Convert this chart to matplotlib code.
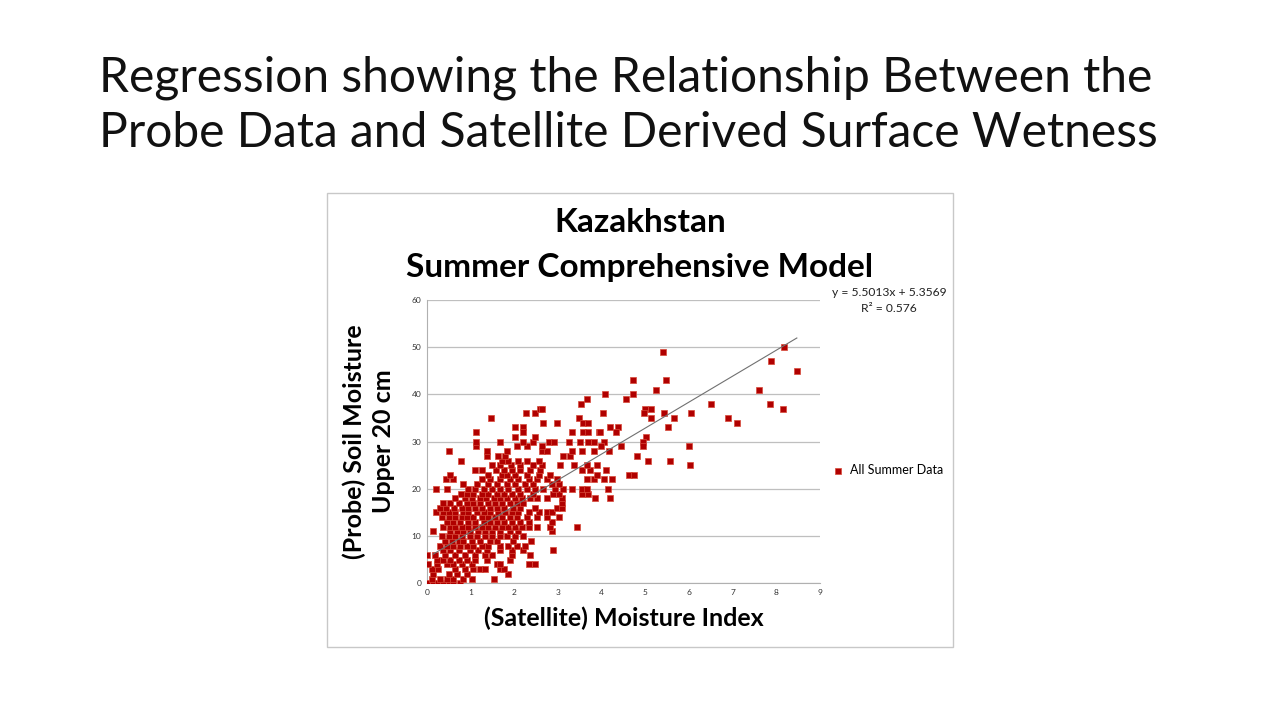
import numpy as np
import matplotlib.pyplot as plt
from matplotlib.patches import Rectangle

plt.rcParams['font.family'] = ['Lato', 'DejaVu Sans']

# satellite moisture index (x) and probe soil moisture (y)
# probe values 0-9
sat_low = [0.00, 0.15, 0.27, 0.38, 0.50, 0.61, 0.76,
           0.11, 0.31, 0.46, 0.61, 0.84, 1.03, 1.53,
           0.15, 0.50, 0.69, 0.92, 1.87,
           0.11, 0.27, 0.65, 0.88, 1.07, 1.22, 1.34, 1.68, 1.76,
           0.04, 0.23, 0.46, 0.61, 0.80, 1.03, 1.60, 1.68, 2.33, 2.48,
           0.23, 0.38, 0.53, 0.73, 0.92, 1.11, 1.37, 1.91,
           0.00, 0.19, 0.42, 0.65, 0.88, 1.11, 1.34, 1.49, 1.96, 2.37,
           0.38, 0.53, 0.73, 0.99, 1.18, 1.37, 1.68, 1.96, 2.21, 2.90,
           0.31, 0.46, 0.61, 0.76, 0.92, 1.07, 1.26, 1.41, 1.68, 1.87, 2.06, 2.25,
           0.42, 0.57, 0.73, 0.84, 1.03, 1.22, 1.45, 1.60, 1.98, 2.39]
probe_low = [0, 0, 0, 0, 0, 0, 0,
             1, 1, 1, 1, 1, 1, 1,
             2, 2, 2, 2, 2,
             3, 3, 3, 3, 3, 3, 3, 3, 3,
             4, 4, 4, 4, 4, 4, 4, 4, 4, 4,
             5, 5, 5, 5, 5, 5, 5, 5,
             6, 6, 6, 6, 6, 6, 6, 6, 6, 6,
             7, 7, 7, 7, 7, 7, 7, 7, 7, 7,
             8, 8, 8, 8, 8, 8, 8, 8, 8, 8, 8, 8,
             9, 9, 9, 9, 9, 9, 9, 9, 9, 9]

# probe values 10-19
sat_mid = [0.34, 0.50, 0.65, 0.80, 0.99, 1.15, 1.34, 1.49, 1.68, 1.83, 2.02, 2.21,
           0.15, 0.53, 0.69, 0.84, 0.99, 1.18, 1.34, 1.49, 1.68, 1.91, 2.10, 2.86,
           0.38, 0.53, 0.65, 0.80, 0.95, 1.11, 1.26, 1.41, 1.56, 1.72, 1.87, 2.02, 2.18, 2.33, 2.52, 2.82, 3.45,
           0.46, 0.61, 0.76, 0.95, 1.11, 1.30, 1.45, 1.60, 1.76, 1.95, 2.14, 2.33, 2.86,
           0.34, 0.50, 0.65, 0.80, 0.92, 1.07, 1.26, 1.41, 1.56, 1.72, 1.91, 2.06, 2.29, 2.52, 2.75, 3.02,
           0.21, 0.37, 0.50, 0.65, 0.84, 0.95, 1.15, 1.30, 1.45, 1.64, 1.79, 1.95, 2.10, 2.33, 2.56, 2.75, 2.86,
           0.31, 0.44, 0.63, 0.80, 0.95, 1.11, 1.26, 1.45, 1.60, 1.76, 1.98, 2.14, 2.48, 2.98, 3.09,
           0.37, 0.53, 0.73, 0.92, 1.07, 1.22, 1.41, 1.56, 1.72, 1.91, 2.06, 2.21, 3.09,
           0.65, 0.88, 1.03, 1.22, 1.36, 1.53, 1.68, 1.83, 2.02, 2.18, 2.37, 2.52, 2.75, 3.09, 3.85,
           0.79, 0.92, 1.07, 1.26, 1.41, 1.60, 1.76, 1.95, 2.14, 2.44, 2.90, 3.02, 3.55, 3.70]
probe_mid = [10, 10, 10, 10, 10, 10, 10, 10, 10, 10, 10, 10,
             11, 11, 11, 11, 11, 11, 11, 11, 11, 11, 11, 11,
             12, 12, 12, 12, 12, 12, 12, 12, 12, 12, 12, 12, 12, 12, 12, 12, 12,
             13, 13, 13, 13, 13, 13, 13, 13, 13, 13, 13, 13, 13,
             14, 14, 14, 14, 14, 14, 14, 14, 14, 14, 14, 14, 14, 14, 14, 14,
             15, 15, 15, 15, 15, 15, 15, 15, 15, 15, 15, 15, 15, 15, 15, 15, 15,
             16, 16, 16, 16, 16, 16, 16, 16, 16, 16, 16, 16, 16, 16, 16,
             17, 17, 17, 17, 17, 17, 17, 17, 17, 17, 17, 17, 17,
             18, 18, 18, 18, 18, 18, 18, 18, 18, 18, 18, 18, 18, 18, 18,
             19, 19, 19, 19, 19, 19, 19, 19, 19, 19, 19, 19, 19, 19]

# probe values 20-30
sat_high = [0.21, 0.46, 0.95, 1.11, 1.30, 1.49, 1.68, 1.87, 2.10, 2.29, 2.48, 2.67, 2.94, 3.13, 3.32, 3.55, 3.66,
            0.84, 1.15, 1.41, 1.60, 1.83, 2.02, 2.25, 2.44, 2.86, 3.02,
            0.44, 0.61, 1.26, 1.45, 1.68, 1.91, 2.10, 2.33, 2.52, 2.75, 2.98, 3.66, 3.82,
            0.53, 1.41, 1.72, 1.83, 2.02, 2.29, 2.58, 2.82, 3.89,
            1.11, 1.26, 1.58, 1.76, 1.95, 2.14, 2.37, 2.60, 3.55, 3.74,
            1.49, 1.68, 1.92, 2.14, 2.44, 2.63, 3.05, 3.36, 3.66, 3.89,
            0.78, 1.72, 1.87, 2.08, 2.29, 2.56,
            1.39, 1.64, 1.79, 3.11, 3.28,
            0.50, 1.39, 1.83, 2.63, 2.75, 3.32, 3.55, 3.82,
            1.13, 2.06, 2.29, 2.63,
            1.13, 1.68, 2.21, 2.44, 2.79, 2.92, 3.26, 3.51, 3.70, 3.82]
probe_high = [20, 20, 20, 20, 20, 20, 20, 20, 20, 20, 20, 20, 20, 20, 20, 20, 20,
              21, 21, 21, 21, 21, 21, 21, 21, 21, 21,
              22, 22, 22, 22, 22, 22, 22, 22, 22, 22, 22, 22, 22,
              23, 23, 23, 23, 23, 23, 23, 23, 23,
              24, 24, 24, 24, 24, 24, 24, 24, 24, 24,
              25, 25, 25, 25, 25, 25, 25, 25, 25, 25,
              26, 26, 26, 26, 26, 26,
              27, 27, 27, 27, 27,
              28, 28, 28, 28, 28, 28, 28, 28,
              29, 29, 29, 29,
              30, 30, 30, 30, 30, 30, 30, 30, 30, 30]

# scattered points above 30 and beyond x = 4
sat_sparse = [1.12, 1.47, 2.02, 2.20, 2.21, 2.02, 2.27, 2.48, 2.60, 2.63, 2.67, 2.47, 2.99, 3.33,
              3.49, 3.53, 3.66, 3.57, 3.68, 3.58, 3.69, 3.94,
              5.40, 8.18, 7.88, 8.47, 7.60, 7.85, 8.15, 6.50, 6.90, 7.10, 6.05, 5.67, 5.53, 5.44,
              5.47, 5.24, 4.73, 4.73, 4.56, 4.08, 4.03, 5.00, 5.14, 4.97, 5.14, 5.02, 4.95, 4.95,
              4.45, 4.05, 3.98, 4.17, 4.20, 4.37, 4.33, 3.97, 4.81, 5.06, 5.57, 6.00, 6.03, 4.62,
              4.75, 4.10, 4.05, 4.25, 4.14, 4.20]
probe_sparse = [32, 35, 33, 33, 32, 31, 36, 36, 37, 37, 34, 31, 34, 32,
                35, 38, 39, 34, 34, 32, 32, 32,
                49, 50, 47, 45, 41, 38, 37, 38, 35, 34, 36, 35, 33, 36,
                43, 41, 43, 40, 39, 40, 36, 37, 37, 36, 35, 31, 30, 29,
                29, 30, 29, 28, 33, 33, 32, 32, 27, 26, 26, 29, 25, 23,
                23, 24, 22, 22, 20, 18]

slope, intercept = 5.5013, 5.3569
r_squared = 0.576

x = np.array(sat_low + sat_mid + sat_high + sat_sparse)
y = np.array(probe_low + probe_mid + probe_high + probe_sparse)

fig = plt.figure(figsize=(12.8, 7.2), dpi=100)

# slide title
fig.text(99/1280, 1 - 78/720, 'Regression showing the Relationship Between the',
         fontsize=34.6, ha='left', va='center', color='#111111')
fig.text(99/1280, 1 - 133/720, 'Probe Data and Satellite Derived Surface Wetness',
         fontsize=34.6, ha='left', va='center', color='#111111')

# chart frame
fig.patches.append(Rectangle((327/1280, 1 - 647/720), 626/1280, 454/720,
                             transform=fig.transFigure, fill=False,
                             edgecolor='#c8c8c8', linewidth=1))

fig.text(640/1280, 1 - 222/720, 'Kazakhstan', fontsize=24, fontweight='bold',
         ha='center', va='center')
fig.text(640/1280, 1 - 267/720, 'Summer Comprehensive Model', fontsize=24,
         fontweight='bold', ha='center', va='center')

ax = fig.add_axes([426.7/1280, 1 - 583.3/720, 393.3/1280, 283.3/720])
ax.scatter(x, y, marker='s', s=24, facecolor='#b00000', edgecolor='#d84a3a',
           linewidth=0.5, zorder=3, label='All Summer Data')

xl = np.array([x.min() + 0.15, x.max()])
ax.plot(xl, slope * xl + intercept, color='#707070', linewidth=0.8, zorder=4)

ax.set_xlim(0, 9)
ax.set_ylim(0, 60)
ax.set_xticks(range(0, 10))
ax.set_yticks(range(0, 61, 10))
ax.tick_params(labelsize=6, length=0, pad=4, colors='#333333')
ax.grid(axis='y', color='#bfbfbf', linewidth=0.9)
ax.set_axisbelow(True)
for s in ['top', 'right']:
    ax.spines[s].set_visible(False)
for s in ['left', 'bottom']:
    ax.spines[s].set_color('#b0b0b0')

ax.set_xlabel('(Satellite) Moisture Index', fontsize=18, fontweight='bold', labelpad=8)
ax.set_ylabel('(Probe) Soil Moisture\nUpper 20 cm', fontsize=18, fontweight='bold',
              labelpad=12, linespacing=1.3)

fig.text(889/1280, 1 - 293/720, 'y = 5.5013x + 5.3569', fontsize=8.7,
         ha='center', va='center', color='#222222')
fig.text(889/1280, 1 - 309/720, 'R² = 0.576', fontsize=8.7,
         ha='center', va='center', color='#222222')

ax.legend(loc='center left', bbox_to_anchor=(0.985, 0.4), frameon=False,
          fontsize=9, handletextpad=0.0, markerscale=0.9)

fig.savefig('out.png', dpi=100)
